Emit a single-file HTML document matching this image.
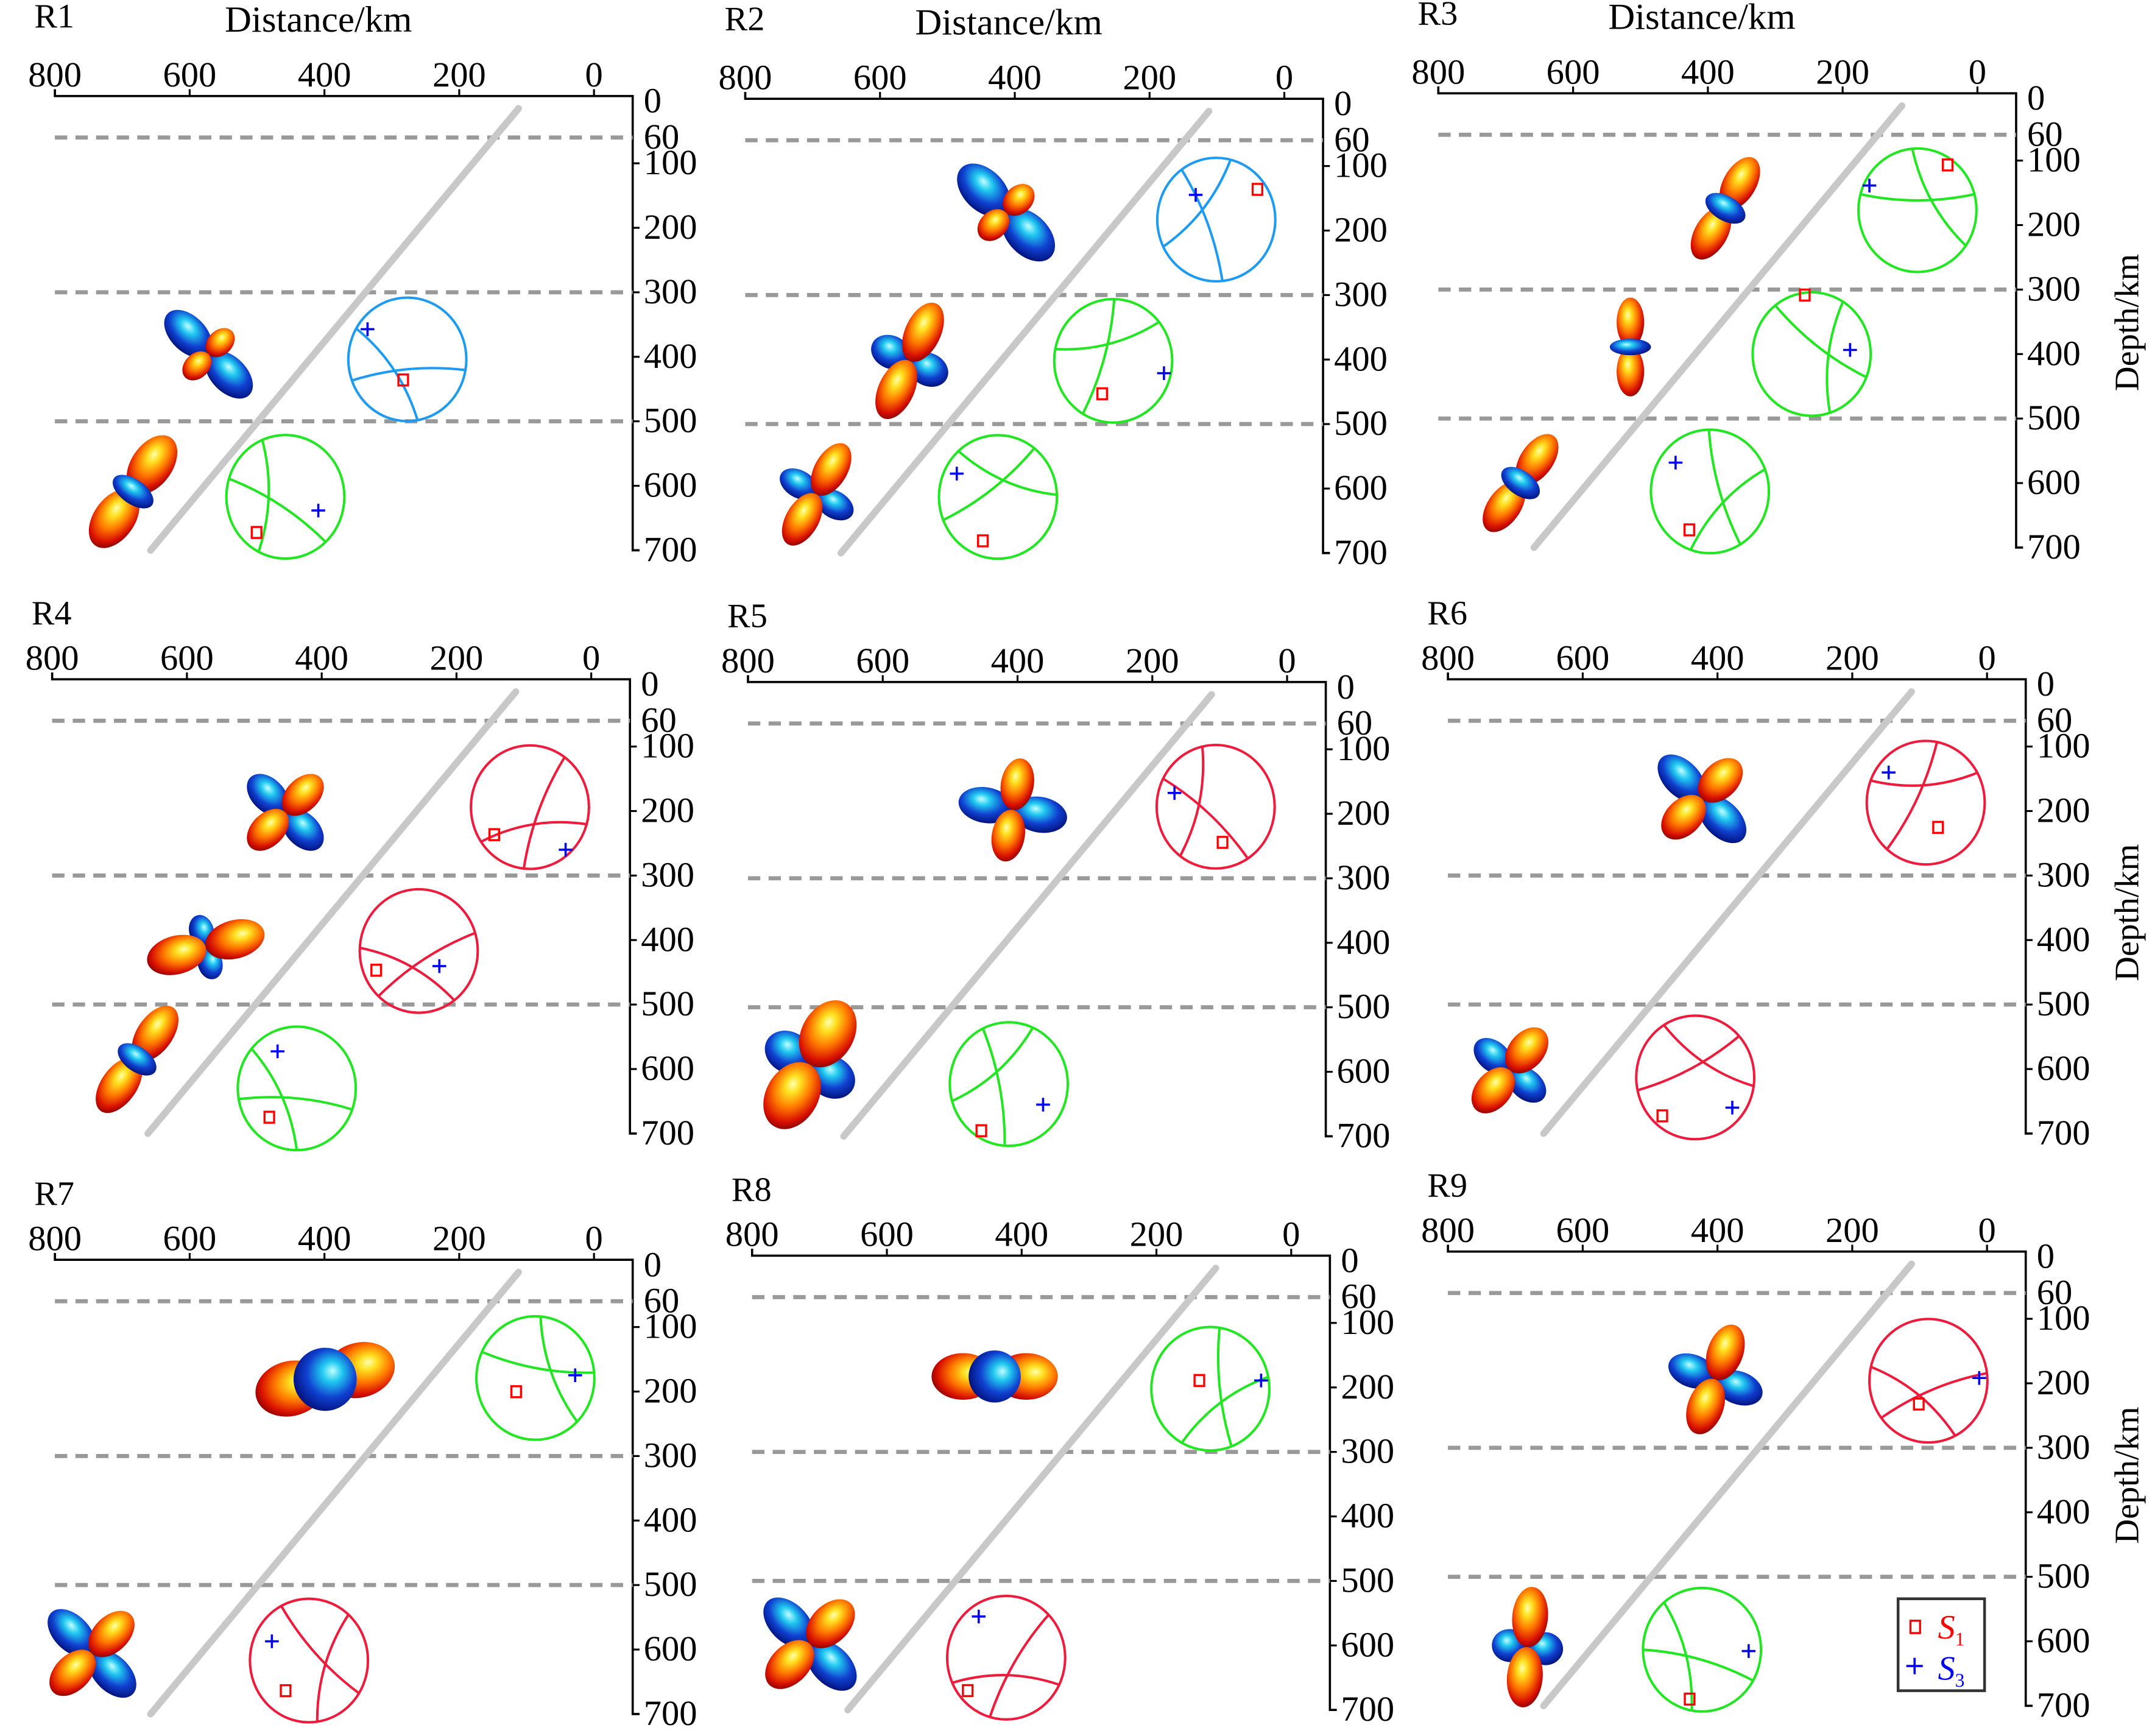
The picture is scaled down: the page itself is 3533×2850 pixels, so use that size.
<!DOCTYPE html>
<html><head><meta charset="utf-8"><style>
html,body{margin:0;padding:0;background:#fff;}
svg{display:block;}
text{font-family:"Liberation Serif",serif;fill:#000;}
</style></head><body>
<svg id="fig" xmlns="http://www.w3.org/2000/svg" width="3533" height="2850" viewBox="0 0 1568 1265" preserveAspectRatio="none">
<defs>
<radialGradient id="gRed" cx="0.45" cy="0.4" r="0.65" fx="0.4" fy="0.35">
<stop offset="0" stop-color="#ffffb0"/><stop offset="0.2" stop-color="#ffe020"/><stop offset="0.5" stop-color="#ff7a00"/><stop offset="0.8" stop-color="#d81000"/><stop offset="1" stop-color="#7a0000"/></radialGradient>
<radialGradient id="gBlue" cx="0.45" cy="0.4" r="0.65" fx="0.4" fy="0.35">
<stop offset="0" stop-color="#c0ffff"/><stop offset="0.25" stop-color="#20c8f0"/><stop offset="0.6" stop-color="#1040d0"/><stop offset="1" stop-color="#000a70"/></radialGradient>
</defs>
<g id="root"></g>
<g>
<rect x="1383" y="1165" width="63" height="67" fill="#fff" stroke="#333" stroke-width="2"/>
<rect x="1392" y="1181" width="7" height="9" fill="none" stroke="#f00" stroke-width="1.5"/>
<text x="1412" y="1194" font-size="25" font-style="italic" style="fill:#f00">S<tspan font-size="14" font-style="normal" dy="5">1</tspan></text>
<path d="M1389 1214h12M1395 1208v12" stroke="#00f" stroke-width="1.6"/>
<text x="1412" y="1224" font-size="25" font-style="italic" style="fill:#00f">S<tspan font-size="14" font-style="normal" dy="5">3</tspan></text>
</g>
<text x="1558" y="235" font-size="25" text-anchor="middle" transform="rotate(-90 1558 235)">Depth/km</text>
<text x="1558" y="665" font-size="25" text-anchor="middle" transform="rotate(-90 1558 665)">Depth/km</text>
<text x="1558" y="1075" font-size="25" text-anchor="middle" transform="rotate(-90 1558 1075)">Depth/km</text>
</svg>
<script>
const NS="http://www.w3.org/2000/svg";
const distTicks=[800,600,400,200,0];
const depthTicks=[0,60,100,200,300,400,500,600,700];
const dashDepths=[60,300,500];
const slabTop=[112,15];
const slabBottom=[658,700];
const panelNames=["R1","R2","R3","R4","R5","R6","R7","R8","R9"];
const panelOrigins=[[40,70],[543,72],[1048,68],[38,495],[545,497],[1055,495],[40,918],[548,915],[1055,912]];
// glyph lobes: panel, km, depth, angle, redLen, redW, blueLen, blueW, torus
const lobes=[
[0,572,396,45,24,9,42,13,0],[0,684,609,35,48,15,34,9,1],
[1,413,172,45,26,10,46,15,0],[1,556,402,25,46,13,30,12,0],[1,694,609,30,42,12,30,10,0],
[2,374,174,30,42,12,32,9,1],[2,515,389,0,36,10,30,6,1],[2,678,600,35,42,12,32,9,1],
[3,454,202,45,36,12,36,12,0],[3,572,411,75,44,14,24,9,0],[3,674,585,35,46,13,32,9,1],
[4,407,194,10,38,12,40,13,0],[4,708,589,30,52,19,36,15,0],
[5,423,181,45,38,13,42,13,0],[5,708,602,40,38,13,32,11,0],
[6,399,181,75,52,20,34,23,1],[6,745,606,45,40,13,42,13,0],
[7,440,183,90,46,17,30,19,1],[7,714,598,45,42,14,44,14,0],
[8,403,194,20,42,13,36,12,0],[8,682,609,5,44,13,26,12,0]
];
// beachballs: panel, km, depth, color, plus dx, dy, square dx, dy
const balls=[
[0,277,404,"#1e9bf0",-29,-22,-3,15],[0,458,617,"#22e622",24,10,-21,26],
[1,101,183,"#1e9bf0",-15,-18,30,-22],[1,254,402,"#22e622",37,9,-8,24],[1,425,613,"#22e622",-30,-17,-11,32],
[2,89,177,"#22e622",-35,-18,22,-33],[2,246,400,"#22e622",28,-3,-5,-43],[2,397,613,"#22e622",-25,-21,-15,28],
[3,91,194,"#ee1c3c",26,31,-26,20],[3,256,417,"#ee1c3c",15,11,-31,14],[3,437,630,"#22e622",-14,-27,-20,21],
[4,106,189,"#ee1c3c",-30,-10,5,26],[4,413,619,"#22e622",25,15,-20,34],
[5,91,187,"#ee1c3c",-27,-22,9,18],[5,433,613,"#ee1c3c",27,22,-24,28],
[6,87,179,"#22e622",29,-2,-14,10],[6,423,617,"#ee1c3c",-27,-14,-17,22],
[7,120,202,"#22e622",37,-6,-8,-6],[7,423,619,"#ee1c3c",-20,-30,-28,24],
[8,87,196,"#ee1c3c",37,-2,-7,17],[8,423,613,"#22e622",34,1,-9,36]
];
const arcs=[[100,250,0.35],[-60,170,0.3]];
const root=document.getElementById("root");
function mk(tag,attrs,parent){const e=document.createElementNS(NS,tag);for(const k in attrs)e.setAttribute(k,attrs[k]);(parent||root).appendChild(e);return e;}
const KM=0.491, DP=0.47;
function xs(p,km){return panelOrigins[p][0]+(800-km)*KM;}
function ys(p,d){return panelOrigins[p][1]+2+d*DP;}
panelNames.forEach((nm,p)=>{
  const [ox,oy]=panelOrigins[p];
  const rx=ox+421;
  const g=mk("g",{});
  
  
  const t=mk("text",{x:ox-15,y:oy-50+(p<3?0:10),"font-size":25},g);t.textContent=nm;
  
  
  if(p<3){const tt=mk("text",{x:ox+192,y:oy-47,"font-size":27,"text-anchor":"middle"},g);tt.textContent="Distance/km";
    
    }
  const ax=mk("path",{d:`M${ox} ${oy-5}V${oy}H${rx}V${ys(p,700)}h5`,fill:"none",stroke:"#000","stroke-width":1.6},g);
  
  
  distTicks.forEach(v=>{const x=xs(p,v);mk("line",{x1:x,x2:x,y1:oy,y2:oy-5,stroke:"#000","stroke-width":1.4},g);
    const l=mk("text",{x:x,y:oy-7,"font-size":26,"text-anchor":"middle"},g);l.textContent=v;
    
    });
  depthTicks.forEach(v=>{const y=ys(p,v);if(v!==60&&v!==0)mk("line",{x1:rx,x2:rx+5,y1:y,y2:y,stroke:"#000","stroke-width":1.4},g);
    const l=mk("text",{x:rx+8,y:y+8+(v===0?2:0),"font-size":26},g);l.textContent=v;
    
    });
  dashDepths.forEach(d=>{const y=ys(p,d);const dl=mk("line",{x1:ox,x2:rx,y1:y,y2:y,stroke:"#999","stroke-width":3,"stroke-dasharray":"9 6"},g);
    
    });
  const s=mk("line",{x1:xs(p,slabTop[0]),y1:ys(p,slabTop[1]),x2:xs(p,slabBottom[0]),y2:ys(p,slabBottom[1]),stroke:"#c8c8c8","stroke-width":5,"stroke-linecap":"round"},g);
  
  
});
function ell(g,cx,cy,rx,ry,fill){mk("ellipse",{cx:cx,cy:cy,rx:rx,ry:ry,fill:fill},g);}
lobes.forEach(L=>{
  const [p,km,d,ang,rl,rw,bl,bw,tor]=L;
  const cx=xs(p,km),cy=ys(p,d);
  const g=mk("g",{transform:`translate(${cx} ${cy}) rotate(${ang})`});
  
  
  if(tor){
    ell(g,0,-rl/2,rw,rl/2,"url(#gRed)");
    ell(g,0,rl/2,rw,rl/2,"url(#gRed)");
    if(bw>16) ell(g,0,0,bw,bw,"url(#gBlue)"); else ell(g,0,0,bl/2,bw,"url(#gBlue)");
  }else{
    ell(g,-bl/2,0,bl/2,bw,"url(#gBlue)");
    ell(g,bl/2,0,bl/2,bw,"url(#gBlue)");
    ell(g,0,-rl/2,rw,rl/2,"url(#gRed)");
    ell(g,0,rl/2,rw,rl/2,"url(#gRed)");
  }
});
balls.forEach((B,i)=>{
  const [p,km,d,col,pdx,pdy,sdx,sdy]=B;
  const cx=xs(p,km),cy=ys(p,d),R=43,RY=45;
  const g=mk("g",{});
  
  
  mk("ellipse",{cx:cx,cy:cy,rx:R,ry:RY,fill:"none",stroke:col,"stroke-width":1.8},g);
  arcs.forEach((a,j)=>{
    const a1=(a[0]+i*37)*Math.PI/180,a2=(a[1]+i*37)*Math.PI/180;
    const x1=cx+R*Math.sin(a1),y1=cy-RY*Math.cos(a1),x2=cx+R*Math.sin(a2),y2=cy-RY*Math.cos(a2);
    const mx=(x1+x2)/2,my=(y1+y2)/2;const qx=mx+(cx-mx)*a[2]*2.2,qy=my+(cy-my)*a[2]*2.2;
    mk("path",{d:`M${x1} ${y1}Q${qx} ${qy} ${x2} ${y2}`,fill:"none",stroke:col,"stroke-width":1.8},g);
  });
  mk("rect",{x:cx+sdx-3.5,y:cy+sdy-4,width:7,height:8,fill:"none",stroke:"#f00","stroke-width":1.5},g);
  mk("path",{d:`M${cx+pdx-5} ${cy+pdy}h10M${cx+pdx} ${cy+pdy-5}v10`,stroke:"#00f","stroke-width":1.6},g);
});
</script>
</body></html>
